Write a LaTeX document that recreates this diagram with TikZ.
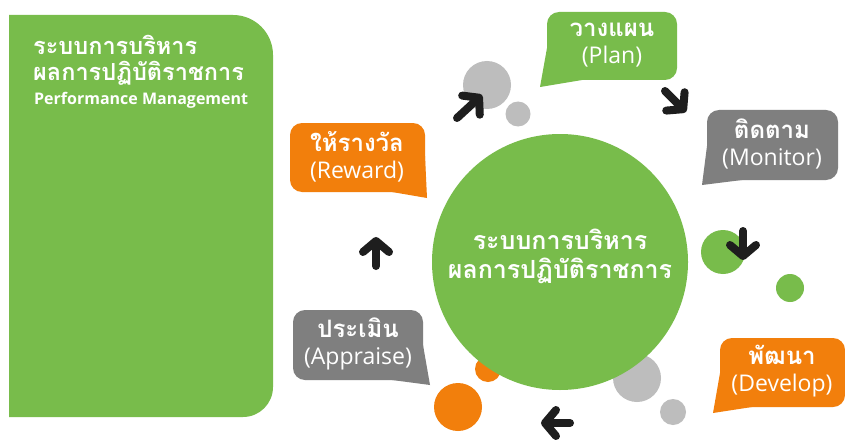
\documentclass[tikz,border=0pt]{standalone}
\usepackage{fontspec}
\setmainfont{Open Sans}
\newfontfamily\thai[Script=Thai]{Loma}
\usetikzlibrary{arrows.meta}
\definecolor{pgreen}{HTML}{78BC4B}
\definecolor{porange}{HTML}{F27F0C}
\definecolor{pgray}{HTML}{7F7F7F}
\definecolor{lgray}{HTML}{BDBDBD}
\definecolor{arrowc}{HTML}{1E1E1E}
\newcommand\thb[1]{{\thai\bfseries\fontsize{24}{27}\selectfont #1}}
\tikzset{
  bub/.style={rounded corners=12pt},
  btext/.style={text=white, align=center, font=\fontsize{23}{27}\selectfont, inner sep=0pt},
  ttext/.style={text=white, anchor=west, inner sep=0pt},
  dot/.style={circle, inner sep=0pt, minimum size=#1},
  flow/.style={draw=arrowc, line width=8pt, line cap=round, line join=round,
    -{Straight Barb[length=11pt,width=26pt,line cap=round,line join=round]}},
}
\begin{document}
\begin{tikzpicture}[x=1pt,y=-1pt]
\useasboundingbox (0,0) rectangle (845,441);
\fill[white] (0,0) rectangle (845,441);
% left panel
\fill[pgreen] (9,15) [rounded corners=40pt] -- (273,15) [rounded corners=30pt] -- (273,417) [sharp corners] -- (9,417) -- cycle;
\node[ttext, font=\thai\bfseries\fontsize{23.5}{26}\selectfont] (title1) at (33,45) {ระบบการบริหาร};
\node[ttext, font=\thai\bfseries\fontsize{23.5}{26}\selectfont] (title2) at (33,73) {ผลการปฏิบัติราชการ};
\node[ttext, font=\bfseries\fontsize{16}{19}\selectfont] (title3) at (34,100) {Performance Management};
% small circles
\node[dot=48pt, fill=lgray] (g1) at (487,85) {};
\node[dot=25pt, fill=lgray] (g2) at (518,114) {};
\node[dot=44pt, fill=pgreen] (gr1) at (723,252) {};
\node[dot=28pt, fill=pgreen] (gr2) at (790,288) {};
\node[dot=48pt, fill=lgray] (g3) at (637,378) {};
\node[dot=26pt, fill=lgray] (g4) at (673,412) {};
\node[dot=26pt, fill=porange] (o1) at (488,369) {};
\node[dot=48pt, fill=porange] (o2) at (458,407) {};
% core circle
\node[circle, fill=pgreen, minimum size=256pt, inner sep=0pt] (core) at (560,262) {};
\node[text=white, align=center, inner sep=0pt, font=\thai\bfseries\fontsize{25}{29}\selectfont] (coretext) at (560,256)
  {ระบบการบริหาร\\ผลการปฏิบัติราชการ};
% bubbles
\fill[pgreen,bub] (547,12) rectangle (677,80);
\fill[pgreen] (547,48) -- (540,87) -- (582,80) -- cycle;
\node[btext] (plan) at (612,45) {\thb{วางแผน}\\(Plan)};
\fill[pgray,bub] (707,110) rectangle (838,180);
\fill[pgray] (707,146) -- (702,185) -- (742,180) -- cycle;
\node[btext] (monitor) at (772,144) {\thb{ติดตาม}\\(Monitor)};
\fill[porange,bub] (290,123) rectangle (425,192);
\fill[porange] (425,156) -- (427,198) -- (392,192) -- cycle;
\node[btext] (reward) at (357,157) {\thb{ให้รางวัล}\\(Reward)};
\fill[pgray,bub] (293,310) rectangle (423,380);
\fill[pgray] (423,345) -- (430,385) -- (392,380) -- cycle;
\node[btext] (appraise) at (358,344) {\thb{ประเมิน}\\(Appraise)};
\fill[porange,bub] (720,338) rectangle (845,407);
\fill[porange] (720,373) -- (713,413) -- (752,407) -- cycle;
\node[btext] (develop) at (782,371) {\thb{พัฒนา}\\(Develop)};
% arrows
\coordinate (a1s) at (457,118); \coordinate (a1e) at (482,95);
\coordinate (a2s) at (665,91); \coordinate (a2e) at (686,112);
\coordinate (a3s) at (743,231); \coordinate (a3e) at (743,260);
\coordinate (a4s) at (570,423); \coordinate (a4e) at (541,423);
\coordinate (a5s) at (376,266); \coordinate (a5e) at (376,237);
\draw[flow] (a1s) -- (a1e);
\draw[flow] (a2s) -- (a2e);
\draw[flow] (a3s) -- (a3e);
\draw[flow] (a4s) -- (a4e);
\draw[flow] (a5s) -- (a5e);
\end{tikzpicture}
\end{document}
